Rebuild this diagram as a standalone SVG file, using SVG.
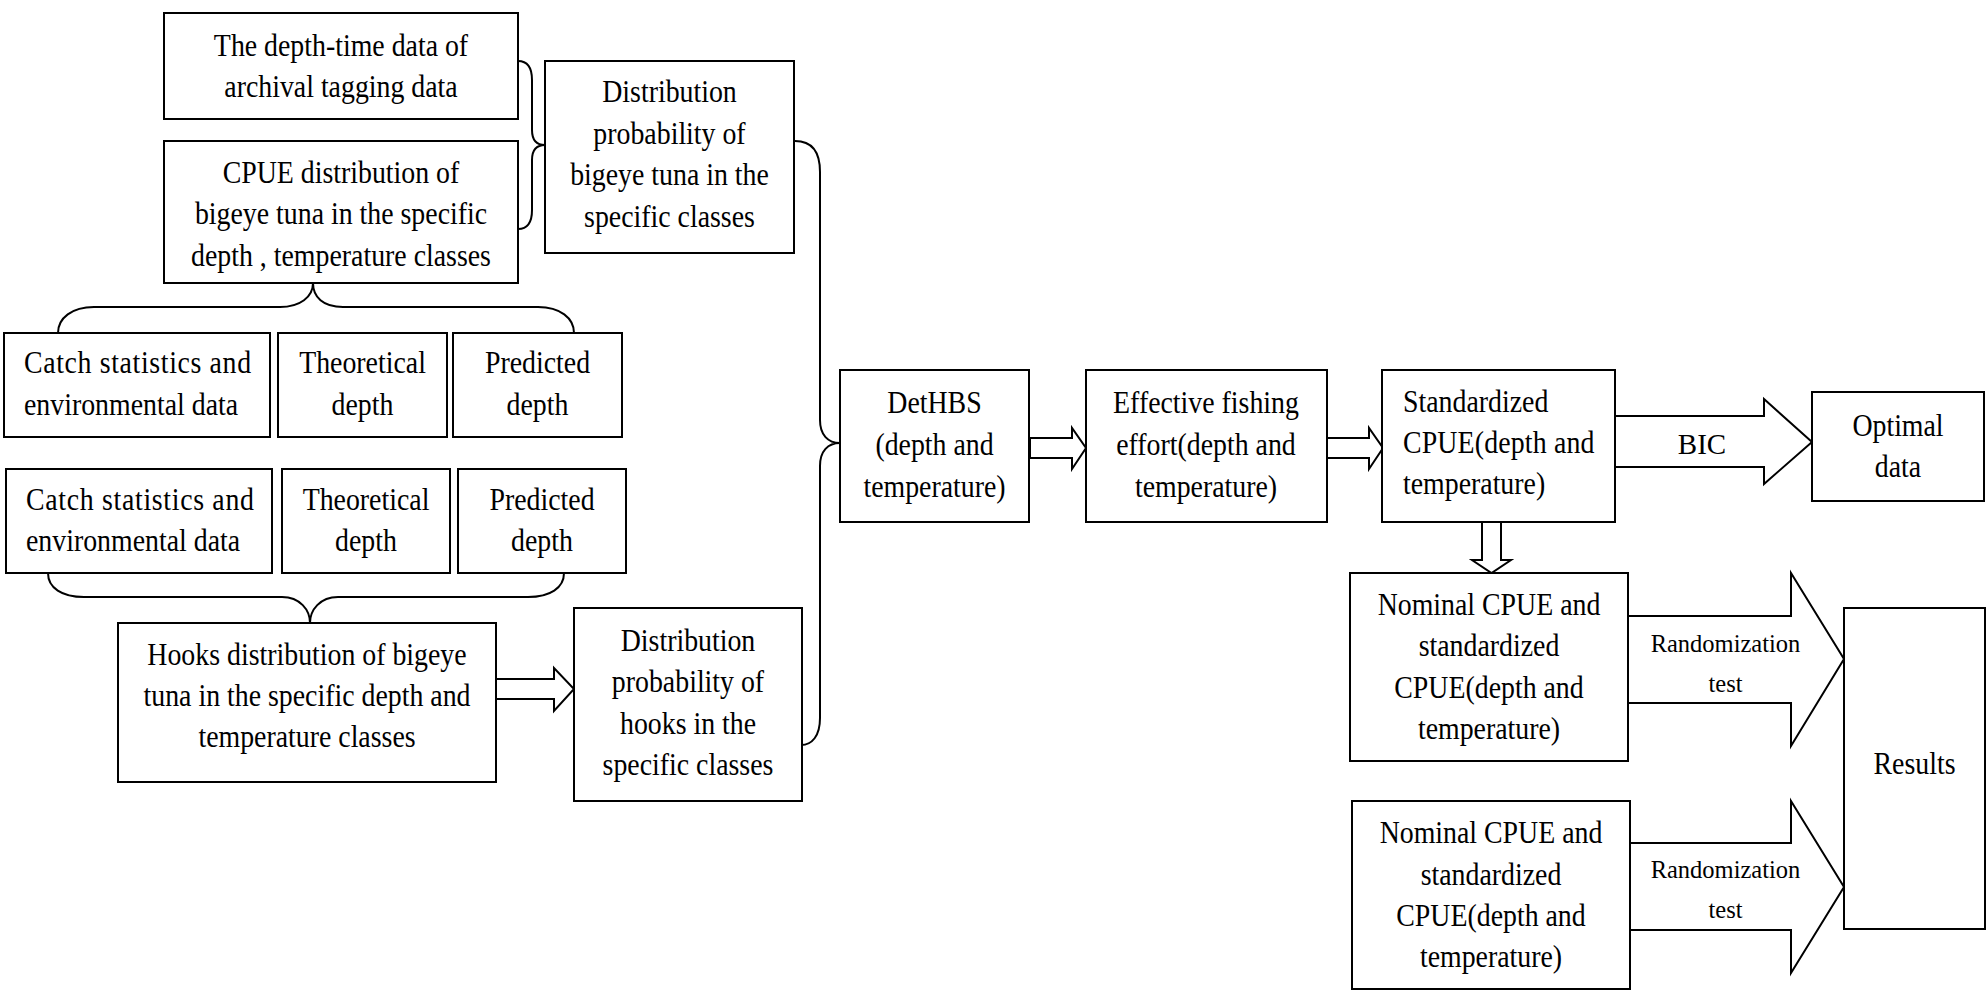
<svg xmlns="http://www.w3.org/2000/svg" width="1986" height="991" viewBox="0 0 1986 991">
<style>
.box{fill:#fff;stroke:#000;stroke-width:2}
.arr{fill:#fff;stroke:#000;stroke-width:2;stroke-linejoin:miter}
.br{fill:none;stroke:#000;stroke-width:2}
text{font-family:"Liberation Serif","Times New Roman",serif;fill:#000}
.t{font-size:32px;text-anchor:middle}
.l{font-size:32px;text-anchor:start}
.s{font-size:24.5px;text-anchor:middle}
.b{font-size:29px;text-anchor:middle}
</style>
<rect width="1986" height="991" fill="#fff"/>

<g id="connectors">
  <path class="br" d="M518,61 C528,61 532,68 532,80 L532,130 C532,140 537,145 545,145 C537,145 532,150 532,160 L532,210 C532,222 528,229 518,229"/>
  <path class="br" d="M795,141 C812,141 820,152 820,172 L820,420 C820,435 828,443 840,443 C828,443 820,451 820,466 L820,718 C820,736 812,745 801,745"/>
  <path class="br" d="M58,333 C58,318 72,307 94,307 L280,307 C300,307 313,297 313,283 C313,297 323,307 343,307 L538,307 C560,307 574,318 574,333"/>
  <path class="br" d="M48,573 C48,588 62,597 84,597 L282,597 C300,597 310,610 310,623 C310,610 320,597 338,597 L528,597 C550,597 564,588 564,573"/>
  <polygon class="arr" points="496,679 554,679 554,668 574,689 554,711 554,699 496,699"/>
  <polygon class="arr" points="1030,438 1072,438 1072,428 1086,448 1072,469 1072,458 1030,458"/>
  <polygon class="arr" points="1327,438 1369,438 1369,428 1383,448 1369,469 1369,458 1327,458"/>
  <polygon class="arr" points="1615,416 1764,416 1764,399 1812,442 1764,484 1764,467 1615,467"/>
  <polygon class="arr" points="1482,522 1501,522 1501,560 1511,560 1491.5,573 1472,560 1482,560"/>
  <polygon class="arr" points="1628,616 1791,616 1791,573 1844,659 1791,746 1791,703 1628,703"/>
  <polygon class="arr" points="1630,843 1791,843 1791,801 1844,887 1791,973 1791,930 1630,930"/>
  <text class="b" x="1702" y="454">BIC</text>
  <text class="s" x="1725.5" y="652">Randomization</text>
  <text class="s" x="1725.5" y="692">test</text>
  <text class="s" x="1725.5" y="878">Randomization</text>
  <text class="s" x="1725.5" y="918">test</text>
</g>

<g id="n-archival">
  <rect class="box" x="164" y="13" width="354" height="106"/>
  <text class="t" transform="translate(341 56) scale(0.87 1)">The depth-time data of</text>
  <text class="t" transform="translate(341 97) scale(0.87 1)">archival tagging data</text>
</g>
<g id="n-cpue-dist">
  <rect class="box" x="164" y="141" width="354" height="142"/>
  <text class="t" transform="translate(341 183) scale(0.87 1)">CPUE distribution of</text>
  <text class="t" transform="translate(341 224) scale(0.87 1)">bigeye tuna in the specific</text>
  <text class="t" transform="translate(341 266) scale(0.87 1)">depth , temperature classes</text>
</g>
<g id="n-dist-prob-bigeye">
  <rect class="box" x="545" y="61" width="249" height="192"/>
  <text class="t" transform="translate(669.5 102) scale(0.87 1)">Distribution</text>
  <text class="t" transform="translate(669.5 144) scale(0.87 1)">probability of</text>
  <text class="t" transform="translate(669.5 185) scale(0.87 1)">bigeye tuna in the</text>
  <text class="t" transform="translate(669.5 227) scale(0.87 1)">specific classes</text>
</g>
<g id="n-catch1">
  <rect class="box" x="4" y="333" width="266" height="104"/>
  <text class="l" transform="translate(24 373) scale(0.87 1)" textLength="261" lengthAdjust="spacing">Catch statistics and</text>
  <text class="l" transform="translate(24 415) scale(0.87 1)">environmental data</text>
</g>
<g id="n-theo1">
  <rect class="box" x="278" y="333" width="169" height="104"/>
  <text class="t" transform="translate(362.5 373) scale(0.87 1)">Theoretical</text>
  <text class="t" transform="translate(362.5 415) scale(0.87 1)">depth</text>
</g>
<g id="n-pred1">
  <rect class="box" x="453" y="333" width="169" height="104"/>
  <text class="t" transform="translate(537.5 373) scale(0.87 1)">Predicted</text>
  <text class="t" transform="translate(537.5 415) scale(0.87 1)">depth</text>
</g>
<g id="n-catch2">
  <rect class="box" x="6" y="469" width="266" height="104"/>
  <text class="l" transform="translate(26 510) scale(0.87 1)" textLength="262" lengthAdjust="spacing">Catch statistics and</text>
  <text class="l" transform="translate(26 551) scale(0.87 1)">environmental data</text>
</g>
<g id="n-theo2">
  <rect class="box" x="282" y="469" width="168" height="104"/>
  <text class="t" transform="translate(366 510) scale(0.87 1)">Theoretical</text>
  <text class="t" transform="translate(366 551) scale(0.87 1)">depth</text>
</g>
<g id="n-pred2">
  <rect class="box" x="458" y="469" width="168" height="104"/>
  <text class="t" transform="translate(542 510) scale(0.87 1)">Predicted</text>
  <text class="t" transform="translate(542 551) scale(0.87 1)">depth</text>
</g>
<g id="n-hooks">
  <rect class="box" x="118" y="623" width="378" height="159"/>
  <text class="t" transform="translate(307 665) scale(0.87 1)">Hooks distribution of bigeye</text>
  <text class="t" transform="translate(307 706) scale(0.87 1)">tuna in the specific depth and</text>
  <text class="t" transform="translate(307 747) scale(0.87 1)">temperature classes</text>
</g>
<g id="n-dist-prob-hooks">
  <rect class="box" x="574" y="608" width="228" height="193"/>
  <text class="t" transform="translate(688 651) scale(0.87 1)">Distribution</text>
  <text class="t" transform="translate(688 692) scale(0.87 1)">probability of</text>
  <text class="t" transform="translate(688 734) scale(0.87 1)">hooks in the</text>
  <text class="t" transform="translate(688 775) scale(0.87 1)">specific classes</text>
</g>
<g id="n-dethbs">
  <rect class="box" x="840" y="370" width="189" height="152"/>
  <text class="t" transform="translate(934.5 413) scale(0.87 1)">DetHBS</text>
  <text class="t" transform="translate(934.5 455) scale(0.87 1)">(depth and</text>
  <text class="t" transform="translate(934.5 497) scale(0.87 1)">temperature)</text>
</g>
<g id="n-effective">
  <rect class="box" x="1086" y="370" width="241" height="152"/>
  <text class="t" transform="translate(1206 413) scale(0.87 1)">Effective fishing</text>
  <text class="t" transform="translate(1206 455) scale(0.87 1)">effort(depth and</text>
  <text class="t" transform="translate(1206 497) scale(0.87 1)">temperature)</text>
</g>
<g id="n-standardized">
  <rect class="box" x="1382" y="370" width="233" height="152"/>
  <text class="l" transform="translate(1403 412) scale(0.87 1)">Standardized</text>
  <text class="l" transform="translate(1403 453) scale(0.87 1)" textLength="220" lengthAdjust="spacing">CPUE(depth and</text>
  <text class="l" transform="translate(1403 494) scale(0.87 1)">temperature)</text>
</g>
<g id="n-optimal">
  <rect class="box" x="1812" y="392" width="172" height="109"/>
  <text class="t" transform="translate(1898 436) scale(0.87 1)">Optimal</text>
  <text class="t" transform="translate(1898 477) scale(0.87 1)">data</text>
</g>
<g id="n-nominal1">
  <rect class="box" x="1350" y="573" width="278" height="188"/>
  <text class="t" transform="translate(1489 615) scale(0.87 1)">Nominal CPUE and</text>
  <text class="t" transform="translate(1489 656) scale(0.87 1)">standardized</text>
  <text class="t" transform="translate(1489 698) scale(0.87 1)">CPUE(depth and</text>
  <text class="t" transform="translate(1489 739) scale(0.87 1)">temperature)</text>
</g>
<g id="n-nominal2">
  <rect class="box" x="1352" y="801" width="278" height="188"/>
  <text class="t" transform="translate(1491 843) scale(0.87 1)">Nominal CPUE and</text>
  <text class="t" transform="translate(1491 885) scale(0.87 1)">standardized</text>
  <text class="t" transform="translate(1491 926) scale(0.87 1)">CPUE(depth and</text>
  <text class="t" transform="translate(1491 967) scale(0.87 1)">temperature)</text>
</g>
<g id="n-results">
  <rect class="box" x="1844" y="608" width="141" height="321"/>
  <text class="t" transform="translate(1914.5 774) scale(0.87 1)">Results</text>
</g>
</svg>
